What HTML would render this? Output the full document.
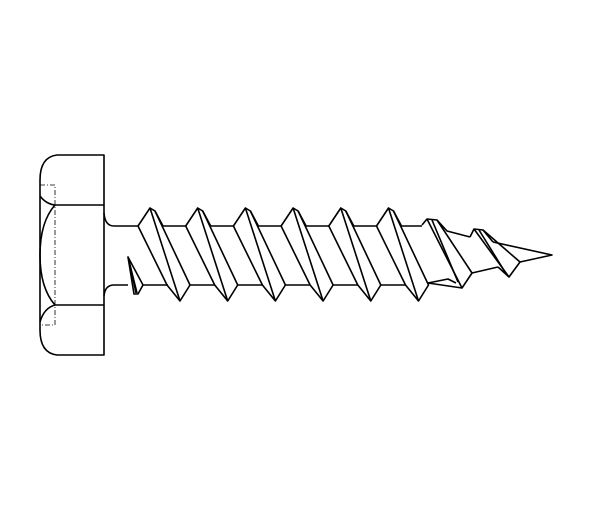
<!DOCTYPE html>
<html><head><style>html,body{margin:0;padding:0;background:#fff;width:600px;height:507px;overflow:hidden}</style></head>
<body>
<svg width="600" height="507" viewBox="0 0 600 507" xmlns="http://www.w3.org/2000/svg" fill="none" stroke="#000" stroke-width="1.6" stroke-linejoin="round">
<!-- head -->
<path d="M104,155 H57 Q40,157 40,180 V330 Q40,353 57,355 H104 Z"/>
<line x1="55" y1="205" x2="104" y2="205"/>
<line x1="55" y1="305" x2="104" y2="305"/>
<path d="M40,196 Q46,204 55,205"/>
<path d="M55,205 Q40,222 40,255 Q40,288 55,305"/>
<path d="M55,305 Q44,308 40,322"/>
<path d="M40,185 H55 V325 H40" stroke-width="0.8" stroke-dasharray="5,2,1,2"/>
<!-- shank fillets -->
<path d="M104,213 Q105,226 114,226 H138"/>
<path d="M104,296 Q105,285 114,285 H128"/>
<!-- small partial thread -->
<path d="M128,257 L134,294 L138,294 L143,285 Z"/>
<line x1="128" y1="257" x2="137" y2="293"/>
<line x1="130" y1="265" x2="136" y2="293"/>
<line x1="143" y1="285" x2="168" y2="285"/>
<!-- threads -->
<g id="t">
<path d="M138,226 L150,208 L155,211 L190,285 L180,301 L167,285 Z"/>
<line x1="150" y1="208" x2="180" y2="301"/>
<line x1="155" y1="211" x2="163" y2="226"/>
</g>
<use href="#t" transform="translate(47.7,0)"/>
<use href="#t" transform="translate(95.4,0)"/>
<use href="#t" transform="translate(143.1,0)"/>
<use href="#t" transform="translate(190.8,0)"/>
<use href="#t" transform="translate(238.5,0)"/>
<!-- shank top segments -->
<path d="M163,226 H185.7 M210.7,226 H233.4 M258.4,226 H281.1 M306.1,226 H328.8 M353.8,226 H376.5 M401.5,226 H422"/>
<path d="M190,285 H214.7 M237.7,285 H262.4 M285.4,285 H310.1 M333.1,285 H357.8 M380.8,285 H405.5 M428.5,283"/>
<!-- tip threads -->
<path d="M422,225 L427,219 L437,220 L472,273 L462,288 L428,283"/>
<line x1="427" y1="219" x2="462" y2="288"/>
<line x1="432" y1="220" x2="458" y2="282"/>
<path d="M437,220 L447,231 L470,237"/>
<path d="M428,283 L448,279 L456,283"/>
<path d="M470,237 L474,229 L483,230 L520,262 L509,277 L498,267"/>
<line x1="474" y1="229" x2="509" y2="277"/>
<line x1="479" y1="230" x2="505" y2="272"/>
<path d="M472,273 L498,267"/>
<path d="M493,242 L552,255 L520,262"/>
<path d="M483,230 L493,242"/>
</g>
</svg>
</body></html>
